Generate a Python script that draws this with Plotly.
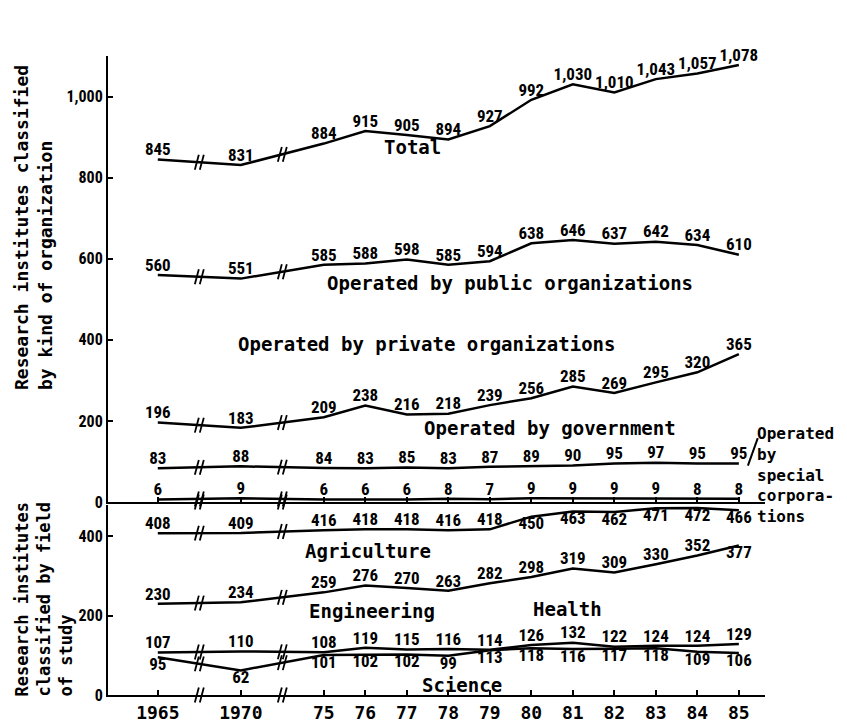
import plotly.graph_objects as go
from plotly.subplots import make_subplots

# ---------------- data ----------------
year_labels = ["1965", "1970", "75", "76", "77", "78", "79", "80", "81", "82", "83", "84", "85"]
# axis scale: 1965-1975 compressed (two 5-year steps drawn as two units each)
x_pos = [0, 2, 4, 5, 6, 7, 8, 9, 10, 11, 12, 13, 14]

total = [845, 831, 884, 915, 905, 894, 927, 992, 1030, 1010, 1043, 1057, 1078]
public_orgs = [560, 551, 585, 588, 598, 585, 594, 638, 646, 637, 642, 634, 610]
private_orgs = [196, 183, 209, 238, 216, 218, 239, 256, 285, 269, 295, 320, 365]
government = [83, 88, 84, 83, 85, 83, 87, 89, 90, 95, 97, 95, 95]
special_corps = [6, 9, 6, 6, 6, 8, 7, 9, 9, 9, 9, 8, 8]

agriculture = [408, 409, 416, 418, 418, 416, 418, 450, 463, 462, 471, 472, 466]
engineering = [230, 234, 259, 276, 270, 263, 282, 298, 319, 309, 330, 352, 377]
health = [107, 110, 108, 119, 115, 116, 114, 126, 132, 122, 124, 124, 129]
science = [95, 62, 101, 102, 102, 99, 113, 118, 116, 117, 118, 109, 106]

top_ticks = [0, 200, 400, 600, 800, 1000]
bottom_ticks = [0, 200, 400]

# ---------------- styles ----------------
NUM_FONT = "Liberation Sans Narrow, Roboto Condensed, Liberation Sans, Arial"
MONO_FONT = "DejaVu Sans Mono, Liberation Mono, monospace"
BLACK = "#000000"

top_pos = ["top center"] * 13
agri_pos = ["top center"] * 7 + ["bottom center"] * 6
eng_pos = ["top center"] * 12 + ["bottom center"]
sci_pos = ["bottom center"] * 13

fig = make_subplots(rows=2, cols=1)


def add_series(ys, row, positions):
    fig.add_trace(go.Scatter(
        x=x_pos, y=ys, mode="lines+text",
        text=[f"{v:,}" for v in ys], textposition=positions,
        textfont=dict(family=NUM_FONT, size=17, color=BLACK, weight="bold"),
        line=dict(color=BLACK, width=2.5),
        cliponaxis=False, showlegend=False, hoverinfo="skip"), row=row, col=1)
    # break marks between 1965-1970 and 1970-1975
    bx, by = [], []
    for i in range(2):
        xm = (x_pos[i] + x_pos[i + 1]) / 2
        ym = (ys[i] + ys[i + 1]) / 2
        bx += [xm - 0.06, xm + 0.06]
        by += [ym, ym]
    fig.add_trace(go.Scatter(
        x=bx, y=by, mode="markers",
        marker=dict(symbol="line-ns", size=11, angle=15,
                    line=dict(color=BLACK, width=1.8)),
        cliponaxis=False, showlegend=False, hoverinfo="skip"), row=row, col=1)


for ys in [total, public_orgs, private_orgs, government, special_corps]:
    add_series(ys, 1, top_pos)
add_series(agriculture, 2, agri_pos)
add_series(engineering, 2, eng_pos)
add_series(health, 2, top_pos)
add_series(science, 2, sci_pos)

# break marks on the x axes
for row in (1, 2):
    fig.add_trace(go.Scatter(
        x=[0.94, 1.06, 2.94, 3.06], y=[0, 0, 0, 0], mode="markers",
        marker=dict(symbol="line-ns", size=11, angle=15,
                    line=dict(color=BLACK, width=1.8)),
        cliponaxis=False, showlegend=False, hoverinfo="skip"), row=row, col=1)

label_font = dict(family=MONO_FONT, size=19, color=BLACK, weight="bold")
series_labels = [
    ("Total", 6.14, 875, "x", "y"),
    ("Operated by public organizations", 8.48, 540, "x", "y"),
    ("Operated by private organizations", 6.48, 390, "x", "y"),
    ("Operated by government", 9.45, 183, "x", "y"),
    ("Agriculture", 5.06, 364, "x2", "y2"),
    ("Engineering", 5.16, 212, "x2", "y2"),
    ("Health", 9.86, 216, "x2", "y2"),
    ("Science", 7.33, 25, "x2", "y2"),
]
for txt, ax_x, ax_y, xr, yr in series_labels:
    fig.add_annotation(text=txt, x=ax_x, y=ax_y, xref=xr, yref=yr,
                       showarrow=False, font=label_font,
                       xanchor="center", yanchor="middle")

# special corporations note
fig.add_annotation(text="Operated<br>by<br>special<br>corpora-<br>tions",
                   xref="paper", yref="paper", x=0.985, y=0.428,
                   xanchor="left", yanchor="top", align="left", showarrow=False,
                   font=dict(family=MONO_FONT, size=16, color=BLACK, weight="bold"))
fig.add_shape(type="line", xref="paper", yref="paper",
              x0=0.974, y0=0.359, x1=0.989, y1=0.402,
              line=dict(color=BLACK, width=2))

# axis titles
fig.add_annotation(text="Research institutes classified<br>by kind of organization",
                   xref="paper", yref="paper", x=-0.114, y=0.731,
                   textangle=-90, xanchor="center", yanchor="middle", align="left",
                   showarrow=False,
                   font=dict(family=MONO_FONT, size=18, color=BLACK, weight="bold"))
fig.add_annotation(text="Research institutes<br>classified by field<br>of study",
                   xref="paper", yref="paper", x=-0.097, y=0.150,
                   textangle=-90, xanchor="center", yanchor="middle", align="left",
                   showarrow=False,
                   font=dict(family=MONO_FONT, size=17, color=BLACK, weight="bold"))

xaxis_common = dict(range=[-1.2, 14.63], tickvals=x_pos, ticktext=year_labels,
                    showgrid=False, zeroline=False, showline=True,
                    linecolor=BLACK, linewidth=2, ticks="inside", ticklen=5,
                    tickcolor=BLACK, tickwidth=1.5)
fig.update_xaxes(**xaxis_common, showticklabels=False, row=1, col=1)
fig.update_xaxes(**xaxis_common, showticklabels=True,
                 tickfont=dict(family=MONO_FONT, size=18, color=BLACK, weight="bold"),
                 row=2, col=1)

yaxis_common = dict(showgrid=False, zeroline=False, showline=True,
                    linecolor=BLACK, linewidth=2, ticks="inside", ticklen=5,
                    tickcolor=BLACK, tickwidth=1.5, tickformat=",d",
                    tickfont=dict(family=NUM_FONT, size=16, color=BLACK, weight="bold"))
fig.update_yaxes(**yaxis_common, range=[0, 1100], tickvals=top_ticks, row=1, col=1)
fig.update_yaxes(**yaxis_common, range=[0, 480], tickvals=bottom_ticks, row=2, col=1)

fig.update_layout(
    width=847, height=727,
    margin=dict(l=100, r=90, t=48, b=24),
    paper_bgcolor="white", plot_bgcolor="white",
    xaxis=dict(domain=[0, 1]), xaxis2=dict(domain=[0, 1]),
    yaxis=dict(domain=[0.302, 1.0]), yaxis2=dict(domain=[0, 0.2977]),
    showlegend=False,
)

fig.write_html("out.html")
